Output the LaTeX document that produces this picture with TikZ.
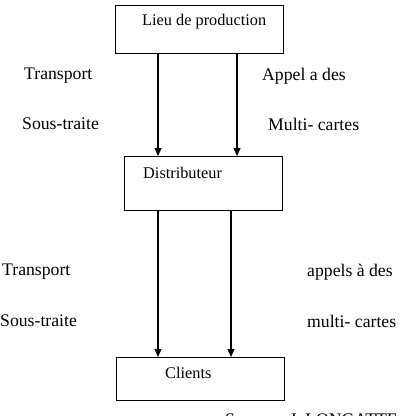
\documentclass[tikz,border=0pt]{standalone}
\usepackage{fontspec}
\setmainfont{Liberation Serif}
\usetikzlibrary{arrows.meta}
\begin{document}
\begin{tikzpicture}[x=1pt,y=-1pt,
  boxstyle/.style={draw,line width=1.1pt,rectangle,inner sep=0pt},
  boxtext/.style={anchor=west,inner sep=0pt,font=\fontsize{16.3}{18}\selectfont},
  lbl/.style={anchor=west,inner sep=0pt,font=\fontsize{17.7}{20}\selectfont},
  arr/.style={line width=1.1pt,-{Triangle[length=8pt,width=7pt]}}]
\useasboundingbox (0,0) rectangle (401,416);
\clip (0,0) rectangle (401,416);
\fill[white] (0,0) rectangle (401,416);
% boxes
\node[boxstyle,minimum width=168pt,minimum height=48pt,anchor=north west] (b1) at (115,5) {};
\node[boxstyle,minimum width=158pt,minimum height=54pt,anchor=north west] (b2) at (124,156) {};
\node[boxstyle,minimum width=168pt,minimum height=43pt,anchor=north west] (b3) at (116,357) {};
\node[boxtext] (t1) at (142,22) {Lieu de production};
\node[boxtext] (t2) at (143,173) {Distributeur};
\node[boxtext] (t3) at (165,373) {Clients};
% arrow columns
\coordinate (c1) at (158,0);
\coordinate (c2) at (237,0);
\coordinate (c3) at (158,0);
\coordinate (c4) at (231,0);
\draw[arr] (b1.south -| c1) -- (b2.north -| c1);
\draw[arr] (b1.south -| c2) -- (b2.north -| c2);
\draw[arr] (b2.south -| c3) -- (b3.north -| c3);
\draw[arr] (b2.south -| c4) -- (b3.north -| c4);
% labels
\node[lbl] (l1) at (24,76) {Transport};
\node[lbl] (l2) at (22,124) {Sous-traite};
\node[lbl] (l3) at (262,76) {Appel a des};
\node[lbl] (l4) at (268,124) {Multi- cartes};
\node[lbl] (l5) at (2,272) {Transport};
\node[lbl] (l6) at (0,321) {Sous-traite};
\node[lbl] (l7) at (307,272) {appels à des};
\node[lbl] (l8) at (307,321) {multi- cartes};
\node[lbl,anchor=base west] (src) at (225,425) {Source : J. LONGATTE (};
\end{tikzpicture}
\end{document}
